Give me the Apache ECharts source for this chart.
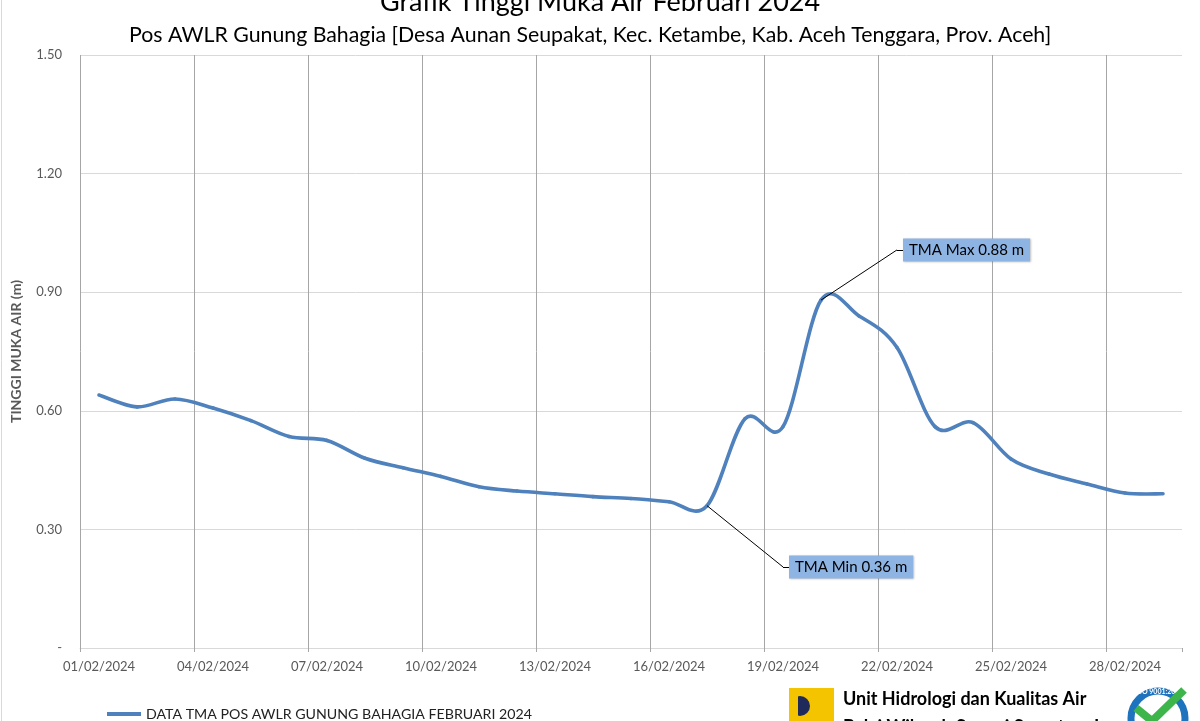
<!DOCTYPE html>
<html>
<head>
<meta charset="utf-8">
<script src="https://cdn.jsdelivr.net/npm/echarts@6/dist/echarts.min.js"></script>
<style>
html,body{margin:0;padding:0;background:#fff;}
#chart{width:1200px;height:721px;}
</style>
</head>
<body>
<div id="chart"></div>
<script>
// ---- data ----
const categories = [
  '01/02/2024','02/02/2024','03/02/2024','04/02/2024','05/02/2024','06/02/2024','07/02/2024',
  '08/02/2024','09/02/2024','10/02/2024','11/02/2024','12/02/2024','13/02/2024','14/02/2024',
  '15/02/2024','16/02/2024','17/02/2024','18/02/2024','19/02/2024','20/02/2024','21/02/2024',
  '22/02/2024','23/02/2024','24/02/2024','25/02/2024','26/02/2024','27/02/2024','28/02/2024',
  '29/02/2024'
];
const tmaValues = [
  0.64, 0.61, 0.63, 0.607, 0.575, 0.535, 0.525,
  0.48, 0.456, 0.434, 0.408, 0.397, 0.39, 0.383,
  0.378, 0.370, 0.36, 0.58, 0.56, 0.88, 0.84,
  0.76, 0.56, 0.57, 0.478, 0.44, 0.415, 0.392,
  0.39
];
const yTicks = [0, 0.30, 0.60, 0.90, 1.20, 1.50];
const labelEvery = 3; // one date label / vertical gridline every 3 days
const seriesName = 'DATA TMA POS AWLR GUNUNG BAHAGIA FEBRUARI 2024';
const titleText = 'Grafik Tinggi Muka Air Februari 2024';
const subtitleText = 'Pos AWLR Gunung Bahagia [Desa Aunan Seupakat, Kec. Ketambe, Kab. Aceh Tenggara, Prov. Aceh]';
const yAxisName = 'TINGGI MUKA AIR (m)';
// annotations: point index/value, elbow (leader end) index/value, text
const maxNote = { idx: 19, val: 0.88, elbowIdx: 21, elbowVal: 1.007, text: 'TMA Max 0.88 m' };
const minNote = { idx: 16, val: 0.36, elbowIdx: 18, elbowVal: 0.205, text: 'TMA Min 0.36 m' };

const FONT = 'Lato, "Open Sans", sans-serif';
const LINE_COLOR = '#4F81BD';
const chart = echarts.init(document.getElementById('chart'), null, { renderer: 'canvas' });

const noteLabel = {
  show: true,
  position: 'right',
  distance: 6,
  color: '#000',
  fontFamily: FONT,
  fontSize: 15,
  backgroundColor: '#8DB4E2',
  padding: [4, 6, 4, 6],
  shadowColor: 'rgba(0,0,0,0.25)',
  shadowBlur: 2,
  shadowOffsetX: 1,
  shadowOffsetY: 1
};

// smoothed (Catmull-Rom style) segment between point i and i+1, via the axes' scales
function renderSmooth(params, api) {
  const i = params.dataIndex;
  const n = tmaValues.length;
  if (i >= n - 1) return null;
  const P = function (k) {
    k = Math.max(0, Math.min(n - 1, k));
    return api.coord([k, tmaValues[k]]);
  };
  const p0 = P(i - 1), p1 = P(i), p2 = P(i + 1), p3 = P(i + 2);
  const t = 1 / 6;
  return {
    type: 'bezierCurve',
    shape: {
      x1: p1[0], y1: p1[1],
      cpx1: p1[0] + (p2[0] - p0[0]) * t, cpy1: p1[1] + (p2[1] - p0[1]) * t,
      cpx2: p2[0] - (p3[0] - p1[0]) * t, cpy2: p2[1] - (p3[1] - p1[1]) * t,
      x2: p2[0], y2: p2[1]
    },
    style: { stroke: LINE_COLOR, lineWidth: 3.6, fill: null, lineCap: 'round' },
    silent: true
  };
}

// vertical gridline colours: the one at the far right end is hidden
const nBoundaryLines = Math.floor(categories.length / labelEvery) + 2;
const splitColors = [];
for (let k = 0; k < nBoundaryLines - 1; k++) splitColors.push('#a6a6a6');
splitColors.push('rgba(0,0,0,0)');

const option = {
  animation: false,
  backgroundColor: '#fff',
  title: [
    { text: titleText, left: 'center', top: -16,
      textStyle: { fontFamily: FONT, fontSize: 27, fontWeight: 'normal', color: '#000' } },
    { text: subtitleText, left: 124, top: 20,
      textStyle: { fontFamily: FONT, fontSize: 21.3, fontWeight: 'normal', color: '#000' } }
  ],
  legend: {
    left: 102, top: 702,
    itemWidth: 34, itemHeight: 4, itemGap: 4,
    textStyle: { fontFamily: FONT, fontSize: 14.2, color: '#222' },
    data: [{ name: seriesName, icon: 'rect', itemStyle: { color: LINE_COLOR } }]
  },
  grid: { left: 80, right: 18, top: 55, bottom: 73, containLabel: false },
  xAxis: [
    {
      type: 'category',
      data: categories,
      boundaryGap: true,
      axisLine: { show: true, lineStyle: { color: '#d9d9d9', width: 1 } },
      axisTick: { show: true, interval: labelEvery - 1, length: 4, lineStyle: { color: '#a6a6a6' } },
      axisLabel: { interval: labelEvery - 1, color: '#595959', fontFamily: FONT, fontSize: 13, margin: 12 },
      splitLine: { show: false }
    },
    {
      // helper axis on day boundaries, only used for the vertical gridlines
      type: 'value',
      position: 'bottom',
      min: 0,
      max: categories.length,
      interval: labelEvery,
      axisLine: { show: false },
      axisTick: { show: false },
      axisLabel: { show: false },
      splitLine: { show: true, showMaxLine: false, lineStyle: { color: splitColors, width: 1 } }
    }
  ],
  yAxis: {
    type: 'value',
    min: yTicks[0],
    max: yTicks[yTicks.length - 1],
    interval: 0.3,
    name: yAxisName,
    nameLocation: 'middle',
    nameGap: 57,
    nameTextStyle: { fontFamily: FONT, fontSize: 14, fontWeight: 'bold', color: '#595959' },
    axisLine: { show: false },
    axisTick: { show: false },
    axisLabel: {
      color: '#595959', fontFamily: FONT, fontSize: 13, margin: 18,
      formatter: function (v) { return v === 0 ? '-' : v.toFixed(2); }
    },
    splitLine: { show: true, lineStyle: { color: '#d9d9d9', width: 1 } }
  },
  series: [
    {
      name: seriesName,
      type: 'custom',
      renderItem: renderSmooth,
      data: tmaValues.map(function (v, i) { return [i, v]; }),
      encode: { x: 0, y: 1 },
      itemStyle: { color: LINE_COLOR },
      z: 3
    },
    {
      name: 'annotations',
      type: 'line',
      data: tmaValues,
      symbol: 'none',
      silent: true,
      lineStyle: { opacity: 0 },
      z: 4,
      markLine: {
        silent: true,
        symbol: 'none',
        label: { show: false },
        lineStyle: { color: '#000', width: 1, type: 'solid' },
        animation: false,
        data: [
          [{ coord: [maxNote.idx, maxNote.val] }, { coord: [maxNote.elbowIdx, maxNote.elbowVal] }],
          [{ coord: [maxNote.elbowIdx, maxNote.elbowVal] }, { coord: [maxNote.elbowIdx + 1, maxNote.elbowVal] }],
          [{ coord: [minNote.idx, minNote.val] }, { coord: [minNote.elbowIdx, minNote.elbowVal] }],
          [{ coord: [minNote.elbowIdx, minNote.elbowVal] }, { coord: [minNote.elbowIdx + 1, minNote.elbowVal] }]
        ]
      },
      markPoint: {
        silent: true,
        symbol: 'circle',
        symbolSize: 0,
        z: 10,
        data: [
          { coord: [maxNote.elbowIdx, maxNote.elbowVal], label: Object.assign({}, noteLabel, { formatter: maxNote.text }) },
          { coord: [minNote.elbowIdx, minNote.elbowVal], label: Object.assign({}, noteLabel, { formatter: minNote.text }) }
        ]
      }
    }
  ],
  graphic: [
    { type: 'line', shape: { x1: 1.5, y1: 0, x2: 1.5, y2: 721 }, style: { stroke: '#d9d9d9', lineWidth: 1 } },
    // footer logo
    { type: 'rect', shape: { x: 789, y: 688, width: 45, height: 40 }, style: { fill: '#F5C400' } },
    { type: 'circle', shape: { cx: 800, cy: 706, r: 10 }, style: { fill: '#1F2A5A' } },
    { type: 'rect', shape: { x: 790, y: 695, width: 8, height: 22 }, style: { fill: '#F5C400' } },
    { type: 'text', left: 843, top: 690,
      style: { text: 'Unit Hidrologi dan Kualitas Air', font: 'bold 18px ' + FONT, fill: '#000' } },
    { type: 'text', left: 843, top: 718,
      style: { text: 'Balai Wilayah Sungai Sumatera I', font: 'bold 18px ' + FONT, fill: '#000' } },
    // ISO badge
    { type: 'circle', shape: { cx: 1158, cy: 718, r: 27 }, style: { fill: '#fff', stroke: '#1E73BE', lineWidth: 7 } },
    { type: 'text', left: 1136, top: 688, style: { text: 'ISO 9001:2008', font: 'bold 7px ' + FONT, fill: '#fff' } },
    { type: 'polyline', shape: { points: [[1136, 708], [1152, 721], [1184, 690]] },
      style: { stroke: '#3DB54A', lineWidth: 8, fill: 'none' } }
  ]
};
chart.setOption(option);
</script>
</body>
</html>
